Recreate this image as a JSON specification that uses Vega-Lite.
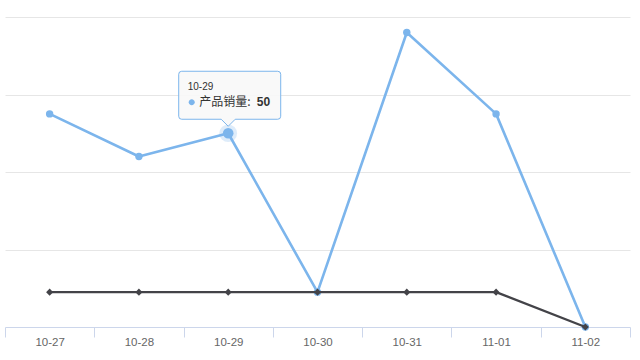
{
  "$schema": "https://vega.github.io/schema/vega-lite/v6.json",
  "width": 625,
  "height": 310,
  "autosize": {"type": "none"},
  "padding": {"left": 5, "top": 17, "right": 10, "bottom": 33},
  "background": "white",
  "config": {"view": {"stroke": null}, "font": "Liberation Sans"},
  "data": {
    "values": [
      {"date": "10-27", "series": "产品销量", "value": 55},
      {"date": "10-28", "series": "产品销量", "value": 44},
      {"date": "10-29", "series": "产品销量", "value": 50},
      {"date": "10-30", "series": "产品销量", "value": 9},
      {"date": "10-31", "series": "产品销量", "value": 76},
      {"date": "11-01", "series": "产品销量", "value": 55},
      {"date": "11-02", "series": "产品销量", "value": 0},
      {"date": "10-27", "series": "基准", "value": 9},
      {"date": "10-28", "series": "基准", "value": 9},
      {"date": "10-29", "series": "基准", "value": 9},
      {"date": "10-30", "series": "基准", "value": 9},
      {"date": "10-31", "series": "基准", "value": 9},
      {"date": "11-01", "series": "基准", "value": 9},
      {"date": "11-02", "series": "基准", "value": 0}
    ]
  },
  "encoding": {
    "x": {
      "field": "date",
      "type": "ordinal",
      "sort": null,
      "scale": {"type": "band", "paddingInner": 0, "paddingOuter": 0},
      "axis": {
        "title": null,
        "labelAngle": 0,
        "domainColor": "#ccd6eb",
        "tickColor": "#ccd6eb",
        "tickSize": 10,
        "tickBand": "extent",
        "labelColor": "#666666",
        "labelFontSize": 11.5,
        "labelPadding": -1,
        "grid": false
      }
    },
    "y": {
      "field": "value",
      "type": "quantitative",
      "scale": {"domain": [0, 80], "nice": false},
      "axis": {
        "title": null,
        "labels": false,
        "ticks": false,
        "domain": false,
        "values": [20, 40, 60, 80],
        "grid": true,
        "gridColor": "#e6e6e6",
        "gridWidth": 1
      }
    }
  },
  "layer": [
    {
      "transform": [{"filter": "datum.series == '产品销量'"}],
      "mark": {
        "type": "line",
        "color": "#7cb5ec",
        "strokeWidth": 2.6,
        "strokeJoin": "round",
        "strokeCap": "round",
        "point": {"filled": true, "size": 55, "color": "#7cb5ec"}
      }
    },
    {
      "transform": [{"filter": "datum.series == '基准'"}],
      "mark": {
        "type": "line",
        "color": "#434348",
        "strokeWidth": 2.4,
        "strokeJoin": "round",
        "strokeCap": "round",
        "point": {"filled": true, "shape": "diamond", "size": 50, "color": "#434348"}
      }
    },
    {
      "transform": [{"filter": "datum.series == '产品销量' && datum.date == '10-29'"}],
      "mark": {"type": "point", "filled": true, "size": 314, "color": "#7cb5ec", "opacity": 0.25}
    },
    {
      "transform": [{"filter": "datum.series == '产品销量' && datum.date == '10-29'"}],
      "mark": {"type": "point", "filled": true, "size": 113, "color": "#7cb5ec", "opacity": 1}
    },
    {
      "transform": [{"filter": "datum.series == '产品销量' && datum.date == '10-29'"}],
      "mark": {
        "type": "point",
        "size": 4,
        "shape": "M -46.5 -62 L 49.5 -62 Q 52.5 -62 52.5 -59 L 52.5 -17 Q 52.5 -14 49.5 -14 L 7 -14 L 0 -7 L -7 -14 L -46.5 -14 Q -49.5 -14 -49.5 -17 L -49.5 -59 Q -49.5 -62 -46.5 -62 Z",
        "filled": true,
        "fill": "#f9f9f9",
        "fillOpacity": 0.92,
        "stroke": "#7cb5ec",
        "strokeWidth": 1,
        "opacity": 1
      }
    },
    {
      "transform": [{"filter": "datum.series == '产品销量' && datum.date == '10-29'"}],
      "mark": {
        "type": "point",
        "size": 4,
        "shape": "M -33.5 -31 A 3 3 0 1 1 -39.5 -31 A 3 3 0 1 1 -33.5 -31 Z",
        "filled": true,
        "fill": "#7cb5ec",
        "opacity": 1
      }
    },
    {
      "transform": [{"filter": "datum.series == '产品销量' && datum.date == '10-29'"}],
      "mark": {"type": "text", "align": "left", "baseline": "middle", "dx": -40.5, "dy": -46, "fontSize": 10, "color": "#333333", "font": "Liberation Sans"},
      "encoding": {"text": {"field": "date"}}
    },
    {
      "transform": [
        {"filter": "datum.series == '产品销量' && datum.date == '10-29'"},
        {"calculate": "datum.series + ':'", "as": "label"}
      ],
      "mark": {"type": "text", "align": "left", "baseline": "middle", "dx": -29, "dy": -31, "fontSize": 12, "color": "#333333", "font": "Noto Sans CJK SC"},
      "encoding": {"text": {"field": "label"}}
    },
    {
      "transform": [{"filter": "datum.series == '产品销量' && datum.date == '10-29'"}],
      "mark": {"type": "text", "align": "left", "baseline": "middle", "dx": 28.5, "dy": -31, "fontSize": 12, "fontWeight": "bold", "color": "#333333", "font": "Liberation Sans"},
      "encoding": {"text": {"field": "value"}}
    }
  ]
}
